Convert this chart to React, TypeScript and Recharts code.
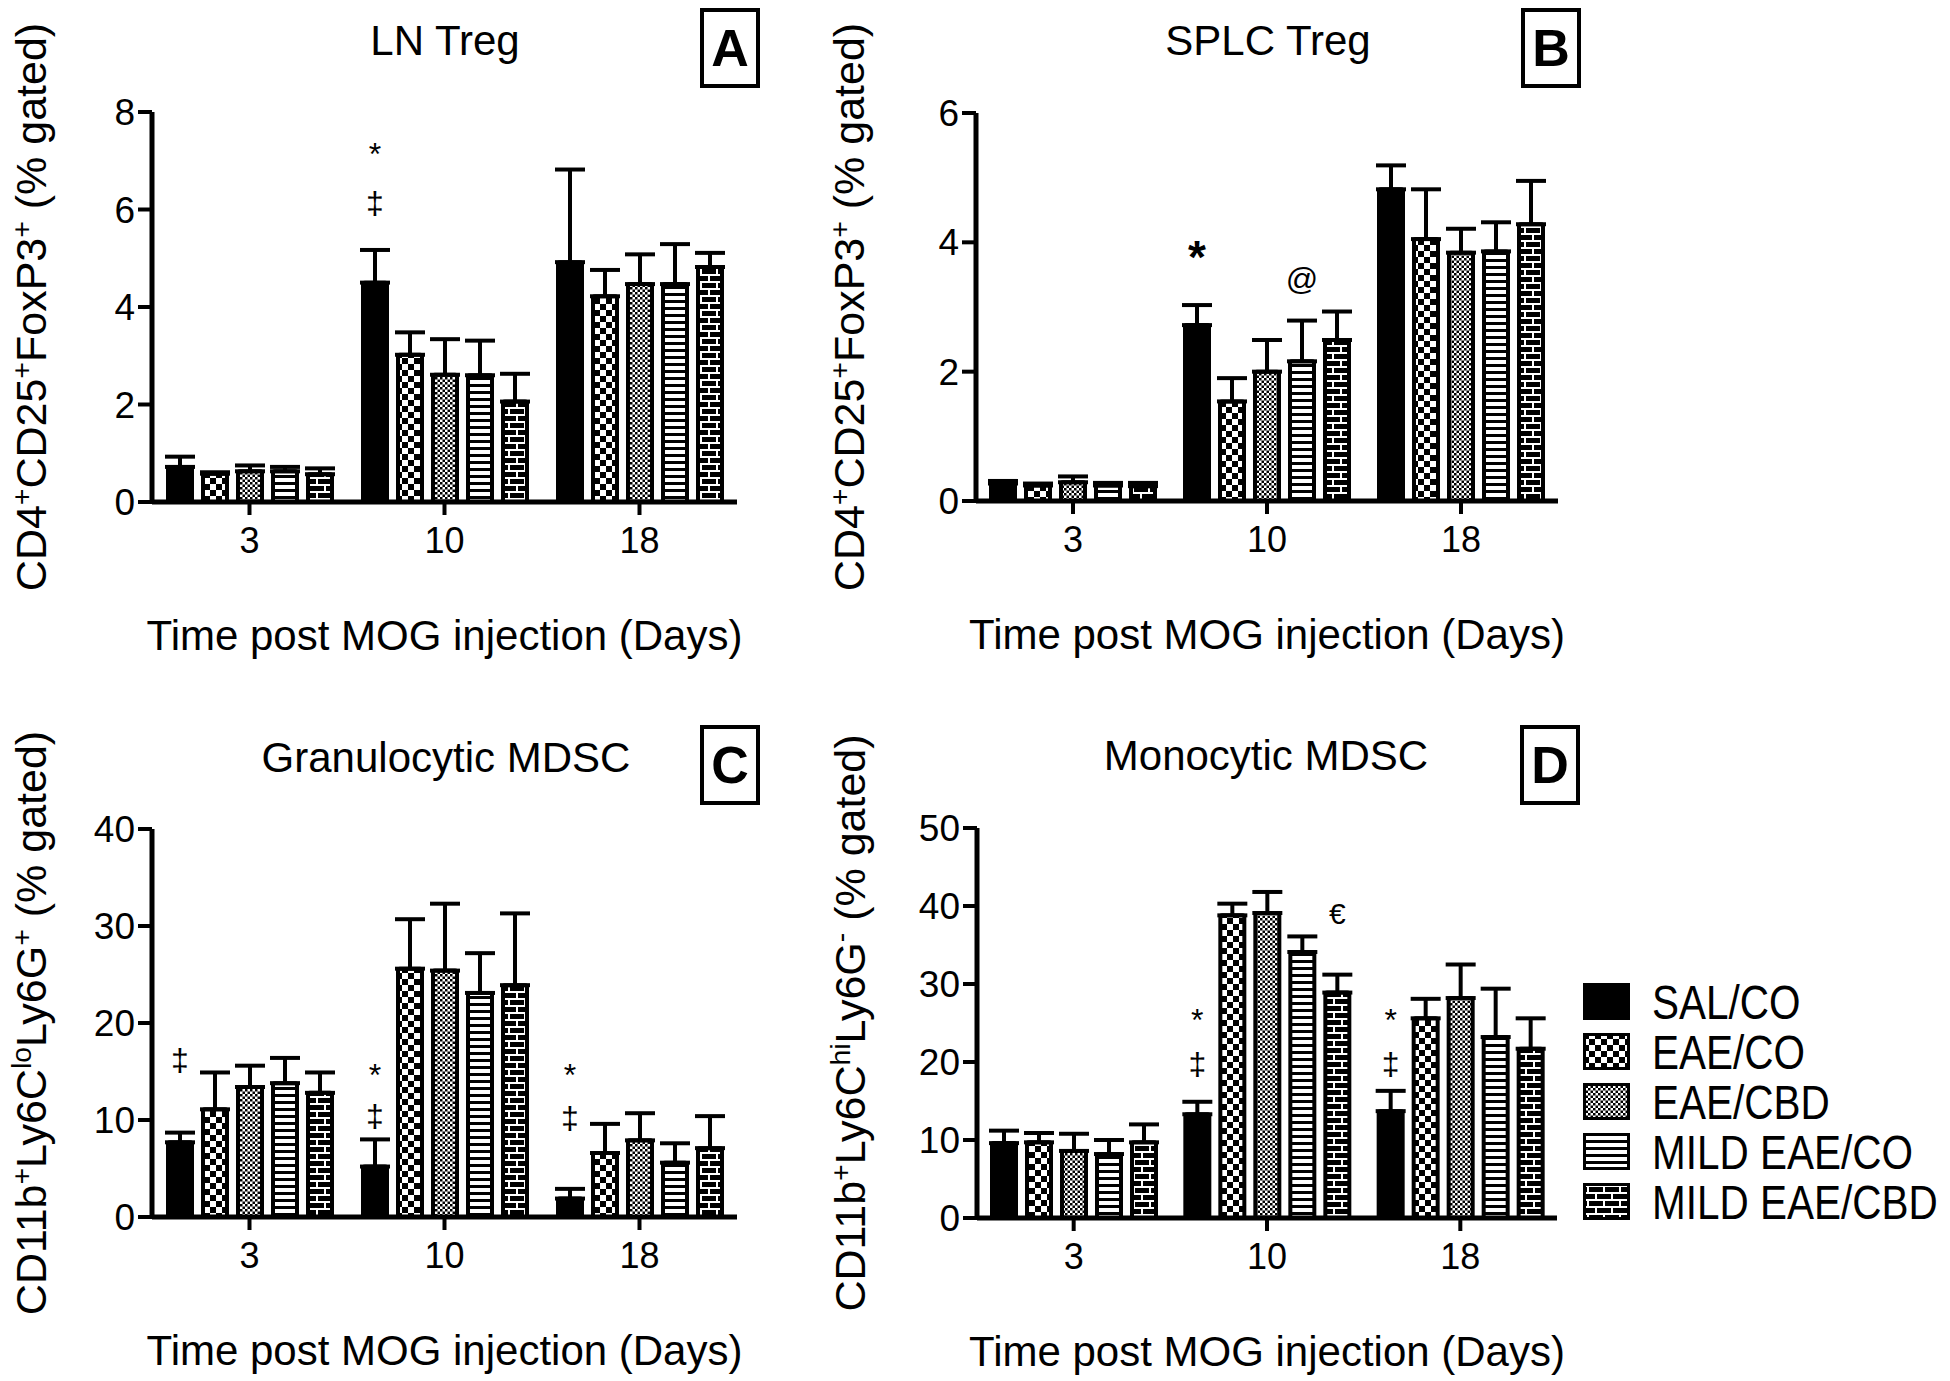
import React from "react";
import { BarChart, Bar, XAxis, YAxis, ErrorBar, LabelList, Legend } from "recharts";

const FONT = '"Liberation Sans", Arial, Helvetica, sans-serif';

const days = ["3", "10", "18"];
const groups = ["SAL/CO", "EAE/CO", "EAE/CBD", "MILD EAE/CO", "MILD EAE/CBD"];
const fills = ["solid", "check", "fine", "stripe", "brick"];

// A - LN Treg (rows = groups, cols = days)
const lnMean = [[0.72, 4.5, 4.92], [0.58, 3.02, 4.22], [0.63, 2.61, 4.47], [0.63, 2.6, 4.47], [0.57, 2.06, 4.82]];
const lnErr = [[0.21, 0.67, 1.9], [0.03, 0.46, 0.54], [0.12, 0.73, 0.61], [0.09, 0.71, 0.82], [0.12, 0.57, 0.29]];
const lnTicks = [0, 2, 4, 6, 8];
const lnMarks: [number, number, string, number][] = [[0, 1, "*", 7.3], [0, 1, "‡", 6.15]];

// B - SPLC Treg
const spMean = [[0.27, 2.72, 4.82], [0.24, 1.54, 4.05], [0.29, 2.0, 3.84], [0.24, 2.16, 3.86], [0.23, 2.49, 4.28]];
const spErr = [[0.04, 0.31, 0.37], [0.03, 0.36, 0.77], [0.09, 0.49, 0.37], [0.04, 0.63, 0.45], [0.05, 0.44, 0.67]];
const spTicks = [0, 2, 4, 6];
const spMarks: [number, number, string, number][] = [[0, 1, "*", 3.95], [3, 1, "@", 3.44]];

// C - Granulocytic MDSC
const grMean = [[7.7, 5.2, 1.9], [11.1, 25.6, 6.6], [13.4, 25.4, 7.9], [13.8, 23.1, 5.6], [12.8, 23.9, 7.1]];
const grErr = [[1.0, 2.8, 1.0], [3.8, 5.1, 3.0], [2.2, 6.9, 2.8], [2.6, 4.1, 2.0], [2.1, 7.4, 3.3]];
const grTicks = [0, 10, 20, 30, 40];
const grMarks: [number, number, string, number][] = [
  [0, 0, "‡", 16.2], [0, 1, "*", 15.5], [0, 1, "‡", 10.5], [0, 2, "*", 15.5], [0, 2, "‡", 10.3],
];

// D - Monocytic MDSC
const moMean = [[9.6, 13.3, 13.7], [9.7, 38.8, 25.6], [8.6, 39.1, 28.2], [8.2, 34.1, 23.2], [9.7, 28.9, 21.7]];
const moErr = [[1.6, 1.6, 2.6], [1.2, 1.5, 2.5], [2.2, 2.7, 4.3], [1.8, 2.0, 6.2], [2.3, 2.3, 3.9]];
const moTicks = [0, 10, 20, 30, 40, 50];
const moMarks: [number, number, string, number][] = [
  [0, 1, "*", 26.4], [0, 1, "‡", 19.8], [4, 1, "€", 39.1], [0, 2, "*", 26.4], [0, 2, "‡", 19.8],
];

type Seg = { t: string; sup?: boolean };
const cd4Title: Seg[] = [
  { t: "CD4" }, { t: "+", sup: true }, { t: "CD25" }, { t: "+", sup: true },
  { t: "FoxP3" }, { t: "+", sup: true }, { t: " (% gated)" },
];
const loTitle: Seg[] = [
  { t: "CD11b" }, { t: "+", sup: true }, { t: "Ly6C" }, { t: "lo", sup: true },
  { t: "Ly6G" }, { t: "+", sup: true }, { t: " (% gated)" },
];
const hiTitle: Seg[] = [
  { t: "CD11b" }, { t: "+", sup: true }, { t: "Ly6C" }, { t: "hi", sup: true },
  { t: "Ly6G" }, { t: "-", sup: true }, { t: " (% gated)" },
];

function buildRows(mean: number[][], err: number[][]) {
  return days.map((d, j) => {
    const r: any = { day: d };
    groups.forEach((_, i) => {
      r[`v${i}`] = mean[i][j];
      r[`e${i}`] = [0, err[i][j]];
    });
    return r;
  });
}

function patterns(p: string) {
  return [
    <pattern key="c" id={`${p}-check`} width={12} height={12} patternUnits="userSpaceOnUse">
      <rect width={12} height={12} fill="#fff" />
      <rect width={6} height={6} fill="#000" />
      <rect x={6} y={6} width={6} height={6} fill="#000" />
    </pattern>,
    <pattern key="f" id={`${p}-fine`} width={5} height={5} patternUnits="userSpaceOnUse">
      <rect width={5} height={5} fill="#fff" />
      <rect width={2.5} height={2.5} fill="#000" />
      <rect x={2.5} y={2.5} width={2.5} height={2.5} fill="#000" />
    </pattern>,
    <pattern key="s" id={`${p}-stripe`} width={8} height={7} patternUnits="userSpaceOnUse">
      <rect width={8} height={7} fill="#fff" />
      <rect width={8} height={3} fill="#000" />
    </pattern>,
    <pattern key="b" id={`${p}-brick`} width={16} height={14} patternUnits="userSpaceOnUse">
      <rect width={16} height={14} fill="#000" />
      <rect y={2} width={16} height={2} fill="#fff" />
      <rect y={9} width={16} height={2} fill="#fff" />
      <rect x={4} y={2} width={2} height={7} fill="#fff" />
      <rect x={12} y={9} width={2} height={7} fill="#fff" />
      <rect x={12} y={0} width={2} height={2} fill="#fff" />
    </pattern>,
  ];
}

const fillFor = (p: string, i: number) => (fills[i] === "solid" ? "#000" : `url(#${p}-${fills[i]})`);

function titleSpans(parts: Seg[], fs: number) {
  const out: React.ReactNode[] = [];
  let raised = false;
  parts.forEach((s, k) => {
    let dy = 0;
    if (s.sup && !raised) { dy = -fs * 0.36; raised = true; }
    else if (!s.sup && raised) { dy = fs * 0.36; raised = false; }
    out.push(
      <tspan key={k} dy={dy} fontSize={s.sup ? fs * 0.66 : fs}>{s.t}</tspan>
    );
  });
  return out;
}

function LegendBox() {
  return (
    <svg width={380} height={250} style={{ overflow: "visible" }}>
      <defs>{patterns("lg")}</defs>
      {groups.map((g, i) => (
        <g key={g} transform={`translate(0, ${i * 50})`}>
          <rect x={1.5} y={1.5} width={44} height={34} fill={fillFor("lg", i)} stroke="#000" strokeWidth={3} />
          <text transform="translate(69 36) scale(1 1.18)" fontSize={40.5} fontFamily={FONT} fill="#000">{g}</text>
        </g>
      ))}
    </svg>
  );
}

type PanelProps = {
  id: string;
  left: number; top: number; width: number; height: number;
  mean: number[][]; err: number[][]; ticks: number[];
  marks: [number, number, string, number][];
  yTitle: Seg[]; yTitleDx: number;
  title: string; titleX: number; titleY: number;
  letter: string; letterX: number; letterY: number;
  legend?: boolean; boldStar?: boolean;
};

const PAD_TOP = 120;

function Panel(p: PanelProps) {
  const boxLeft = p.left - 152;
  const boxTop = p.top - PAD_TOP;
  const w = p.width + 152 + 60;
  const h = p.height + PAD_TOP + 170;
  const data = buildRows(p.mean, p.err);
  const top = p.ticks[p.ticks.length - 1];

  const markContent = (series: number) => (props: any) => {
    const vb = props.viewBox || props;
    const idx = props.index;
    const list = p.marks.filter((m) => m[0] === series && m[1] === idx);
    if (!list.length) return null;
    const base = vb.y + vb.height;
    const perUnit = vb.height / p.mean[series][idx];
    return (
      <g>
        {list.map((m, k) => {
          const star = m[2] === "*";
          const fs = star ? (p.boldStar ? 46 : 32) : m[2] === "€" ? 30 : 32;
          return (
            <text key={k} x={vb.x + vb.width / 2} y={base - m[3] * perUnit} dy={star ? "0.6em" : "0.36em"}
              textAnchor="middle" fontSize={fs} fontWeight={star && p.boldStar ? 700 : 400}
              fontFamily={FONT} fill="#000">{m[2]}</text>
          );
        })}
      </g>
    );
  };

  const yLabel = (props: any) => {
    const vb = props.viewBox;
    const cx = vb.x + p.yTitleDx;
    const cy = vb.y + vb.height / 2;
    return (
      <text x={cx} y={cy + 15} transform={`rotate(-90 ${cx} ${cy})`} textAnchor="middle"
        fontSize={43} fontFamily={FONT} fill="#000">{titleSpans(p.yTitle, 43)}</text>
    );
  };

  return (
    <>
      <div style={{ position: "absolute", left: boxLeft, top: boxTop }}>
        <BarChart width={w} height={h} data={data} barSize={24} barGap={11} style={{ overflow: "visible" }}
          margin={{ top: PAD_TOP, right: 60, bottom: 10, left: 0 }}>
          <defs>{patterns(p.id)}</defs>
          <XAxis dataKey="day" height={160} tickSize={13} tickMargin={12}
            axisLine={{ stroke: "#000", strokeWidth: 5 }} tickLine={{ stroke: "#000", strokeWidth: 4 }}
            tick={{ fill: "#000", fontSize: 36, fontFamily: FONT }}
            label={{ value: "Time post MOG injection (Days)", position: "insideBottom", offset: 12, fill: "#000", fontSize: 42, fontFamily: FONT }} />
          <YAxis width={152} domain={[0, top]} ticks={p.ticks} interval={0} tickSize={14} tickMargin={3}
            axisLine={{ stroke: "#000", strokeWidth: 5 }} tickLine={{ stroke: "#000", strokeWidth: 4 }}
            tick={{ fill: "#000", fontSize: 37, fontFamily: FONT }}
            label={{ content: yLabel }} />
          {groups.map((g, i) => (
            <Bar key={g} dataKey={`v${i}`} name={g} fill={fillFor(p.id, i)} stroke="#000" strokeWidth={4}
              radius={2} isAnimationActive={false}>
              <ErrorBar dataKey={`e${i}`} width={15} stroke="#000" strokeWidth={4} isAnimationActive={false} />
              <LabelList dataKey={`v${i}`} content={markContent(i)} />
            </Bar>
          ))}
          {p.legend && (
            <Legend layout="vertical" align="center" verticalAlign="middle" content={() => <LegendBox />}
              wrapperStyle={{ left: 1583 - boxLeft, top: 983 - boxTop, width: 360 }} />
          )}
        </BarChart>
      </div>
      <div style={{ position: "absolute", left: p.titleX - 300, top: p.titleY - 24, width: 600, height: 48,
        lineHeight: "48px", textAlign: "center", fontSize: 42, fontFamily: FONT, color: "#000" }}>{p.title}</div>
      <div style={{ position: "absolute", left: p.letterX, top: p.letterY, width: 60, height: 80, boxSizing: "border-box",
        border: "4px solid #000", textAlign: "center", lineHeight: "72px", fontSize: 52, fontWeight: 700,
        fontFamily: FONT, color: "#000" }}>{p.letter}</div>
    </>
  );
}

export default function App() {
  return (
    <div style={{ position: "absolute", left: 0, top: 0, width: 1950, height: 1381, background: "#fff", overflow: "hidden" }}>
      <Panel id="pa" left={152} top={112} width={585} height={390} mean={lnMean} err={lnErr} ticks={lnTicks}
        marks={lnMarks} yTitle={cd4Title} yTitleDx={31} title="LN Treg" titleX={445} titleY={41}
        letter="A" letterX={700} letterY={8} />
      <Panel id="pb" left={976} top={113} width={582} height={388} mean={spMean} err={spErr} ticks={spTicks}
        marks={spMarks} yTitle={cd4Title} yTitleDx={25} title="SPLC Treg" titleX={1268} titleY={41}
        letter="B" letterX={1521} letterY={8} boldStar />
      <Panel id="pc" left={152} top={829} width={585} height={388} mean={grMean} err={grErr} ticks={grTicks}
        marks={grMarks} yTitle={loTitle} yTitleDx={31} title="Granulocytic MDSC" titleX={446} titleY={758}
        letter="C" letterX={700} letterY={725} />
      <Panel id="pd" left={977} top={828} width={580} height={390} mean={moMean} err={moErr} ticks={moTicks}
        marks={moMarks} yTitle={hiTitle} yTitleDx={25} title="Monocytic MDSC" titleX={1266} titleY={756}
        letter="D" letterX={1520} letterY={725} legend />
    </div>
  );
}
